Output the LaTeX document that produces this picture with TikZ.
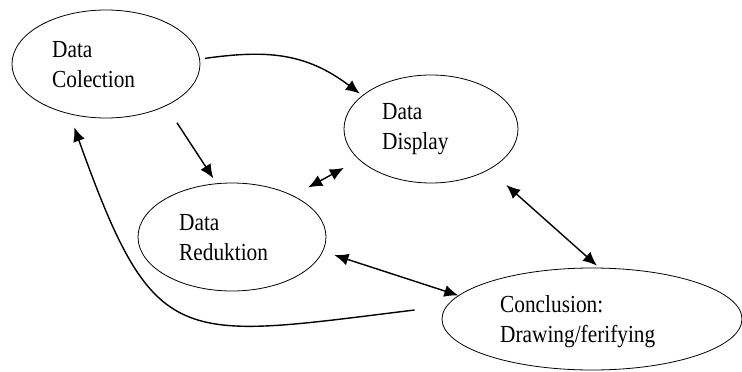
\documentclass[tikz,border=0pt]{standalone}
\usepackage{fontspec}
\setmainfont{Liberation Serif}[FakeStretch=0.87]
\usetikzlibrary{arrows.meta, calc, shapes.geometric}
\tikzset{>={Latex[length=14pt,width=12pt]}}
\tikzset{stage/.style = {draw, ellipse, line width=0.8pt, inner sep=0pt}}
\tikzset{stage-text/.style = {anchor=west, inner sep=0pt, align=left, font=\fontsize{24.5}{30}\selectfont}}
\tikzset{flow/.style = {->, line width=1.4pt}}

\begin{document}
\begin{tikzpicture}[x=1pt, y=-1pt]
  \useasboundingbox (0,0) rectangle (742,372);
  % stages
  \node[stage, minimum width=188pt, minimum height=108pt] (col) at (106,64) {};
  \node[stage, minimum width=174pt, minimum height=108pt] (dis) at (431,129) {};
  \node[stage, minimum width=188pt, minimum height=108pt] (red) at (232,237) {};
  \node[stage, minimum width=300pt, minimum height=102pt] (con) at (592,319) {};

  \node[stage-text] (col-t) at ($(col)+(-54,1)$) {Data\\Colection};
  \node[stage-text] (dis-t) at ($(dis)+(-49,0)$) {Data\\Display};
  \node[stage-text] (red-t) at ($(red)+(-53,1)$) {Data\\Reduktion};
  \node[stage-text] (con-t) at ($(con)+(-92,3)$) {Conclusion:\\Drawing/ferifying};

  % one-way arrows
  \draw[flow, shorten <=5pt, shorten >=3pt] (col.3) .. controls (265,50) and (305,52) .. (dis.154);
  \draw[flow, shorten <=20pt, shorten >=6pt] (col.-35) -- (red.106);

  % two-way arrows
  \foreach \i/\o/\s/\t in {red.34/dis.203/17pt/17pt, dis.-35/con.82/23pt/3pt, red.-9/con.170/12pt/0pt}
  {
    \draw[flow, <->, shorten <=\s, shorten >=\t] (\i) -- (\o);
  }

  % back to collection
  \coordinate (back) at ($(con.west)+(-27,-9)$);
  \draw[flow, shorten >=14pt] (back) .. controls (177,339) and (155,353) .. (col.234);
\end{tikzpicture}
\end{document}
